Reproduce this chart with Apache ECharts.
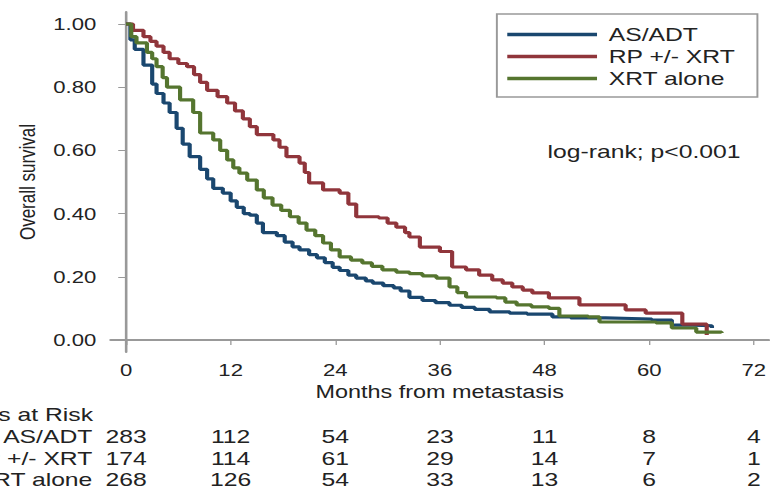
<!DOCTYPE html>
<html>
<head>
<meta charset="utf-8">
<title>Overall survival by treatment</title>
<script src="https://cdn.jsdelivr.net/npm/echarts@6/dist/echarts.min.js"></script>
<style>
  html, body { margin: 0; padding: 0; background: #fff; overflow: hidden; }
  /* the source figure is stretched sideways, so the chart is too */
  #main { width: 592px; height: 491px; transform: scaleX(1.3007); transform-origin: 0 0; }
</style>
</head>
<body>
<div id="main"></div>
<script>
// Kaplan-Meier curves: [month, survival]
var asAdtCurve = [[0,1.00],[0.5,0.95],[1,0.92],[2,0.87],[3,0.81],[3.5,0.78],[4.3,0.75],[5,0.72],[5.8,0.67],
  [6.5,0.62],[7.3,0.58],[8.5,0.54],[9.3,0.51],[10,0.48],[11.1,0.465],[12,0.44],[12.7,0.42],[13.5,0.40],
  [14.2,0.395],[15,0.37],[15.7,0.34],[17.3,0.33],[18.2,0.31],[19.1,0.295],[19.9,0.285],[21,0.27],[21.9,0.26],
  [22.8,0.245],[23.7,0.23],[24.5,0.22],[25.5,0.205],[26.4,0.196],[27.5,0.187],[28.3,0.18],[29.5,0.172],
  [30.7,0.165],[31.5,0.155],[32.5,0.135],[34,0.125],[35.5,0.118],[37.1,0.11],[38.5,0.103],[40,0.097],
  [41.7,0.089],[44,0.085],[46,0.082],[48.9,0.073],[51,0.07],[55,0.068],[58,0.066],[60.3,0.063],
  [62.6,0.047],[65,0.045],[67.2,0.038]];
var rpCurve = [[0,1.00],[0.8,0.98],[2,0.96],[2.8,0.945],[3.5,0.93],[4.3,0.91],[5,0.89],[6,0.875],[7,0.865],
  [7.8,0.84],[8.5,0.815],[9.3,0.79],[10.5,0.77],[11.6,0.75],[12.5,0.725],[13.4,0.70],[14.2,0.675],[15,0.65],
  [16.9,0.633],[17.6,0.61],[18.4,0.58],[19.9,0.56],[20.5,0.53],[21,0.497],[22.6,0.475],[24.5,0.465],
  [25.5,0.43],[26.4,0.39],[29,0.386],[30,0.37],[31,0.357],[32,0.34],[32.5,0.326],[33.7,0.294],[36,0.28],
  [37.4,0.231],[39,0.222],[40.5,0.205],[42,0.19],[43.2,0.18],[44.3,0.168],[45.5,0.158],[46.6,0.149],
  [48.5,0.133],[52,0.111],[57.3,0.095],[59.6,0.085],[63.8,0.05],[66.6,0.016]];
var xrtCurve = [[0,1.00],[0.6,0.96],[1.2,0.94],[2.4,0.91],[3,0.89],[3.5,0.865],[4.2,0.83],[4.7,0.80],
  [6.2,0.76],[7.7,0.72],[8.5,0.655],[10,0.633],[10.8,0.60],[11.6,0.57],[12.3,0.545],[13,0.528],[13.9,0.506],
  [15,0.475],[15.8,0.45],[16.8,0.427],[17.8,0.41],[18.8,0.39],[19.8,0.37],[20.7,0.348],[21.7,0.33],
  [22.6,0.307],[23.5,0.285],[24.5,0.263],[25.8,0.253],[27.1,0.244],[28.2,0.233],[29.4,0.222],[31,0.215],
  [32.5,0.21],[34,0.203],[35.6,0.196],[37.1,0.168],[38,0.15],[39,0.136],[42.5,0.133],[43.5,0.12],
  [44.8,0.111],[46.5,0.105],[48.5,0.10],[49.7,0.076],[53,0.073],[54.3,0.057],[60.8,0.054],[62.6,0.038],
  [65.4,0.025],[68.3,0.022]];

var groupNames = ['AS/ADT', 'RP +/- XRT', 'XRT alone'];
var monthTicks = [0, 12, 24, 36, 48, 60, 72];
var survivalTicks = [0, 0.2, 0.4, 0.6, 0.8, 1];

// numbers at risk under each month tick
var riskAsAdt = [283, 112, 54, 23, 11, 8, 4];
var riskRp = [174, 114, 61, 29, 14, 7, 1];
var riskXrt = [268, 126, 54, 33, 13, 6, 2];

var colors = ['#1a476f', '#90353b', '#55752f'];
var font = '"Liberation Sans", Arial, sans-serif';

var myChart = echarts.init(document.getElementById('main'), null, { renderer: 'svg' });

function kmSeries(name, data, color) {
  return {
    name: name,
    type: 'line',
    step: 'end',
    data: data,
    showSymbol: false,
    symbol: 'none',
    lineStyle: { color: color, width: 3.2 },
    itemStyle: { color: color }
  };
}

myChart.setOption({
  animation: false,
  textStyle: { fontFamily: font, color: '#222' },
  grid: { left: 85, right: 0, top: 12, bottom: 139 },
  legend: {
    data: groupNames.map(function (n) { return { name: n, icon: 'rect' }; }),
    orient: 'vertical',
    left: 382,
    top: 14,
    padding: [11, 17, 9, 8],
    itemWidth: 69,
    itemHeight: 3.5,
    itemGap: 3,
    selectedMode: false,
    borderColor: '#999',
    borderWidth: 1.5,
    textStyle: { fontSize: 19, lineHeight: 19, color: '#222', padding: [0, 0, 0, 4] }
  },
  xAxis: {
    type: 'value',
    min: -1.774,
    max: 73.72,
    name: 'Months from metastasis',
    nameLocation: 'middle',
    nameGap: 24,
    nameTextStyle: { fontSize: 18, color: '#222' },
    splitLine: { show: false },
    axisLine: { lineStyle: { color: '#999', width: 2 } },
    axisTick: { customValues: monthTicks, length: 5, lineStyle: { color: '#999' } },
    axisLabel: { customValues: monthTicks, fontSize: 17, margin: 9, color: '#222' }
  },
  yAxis: {
    type: 'value',
    min: -0.038,
    max: 1.038,
    name: 'Overall survival',
    nameLocation: 'middle',
    nameGap: 56,
    nameTextStyle: { fontSize: 17, color: '#222' },
    splitLine: { show: false },
    axisLine: { show: true, lineStyle: { color: '#999', width: 2 } },
    axisTick: { show: true, customValues: survivalTicks, length: 6, lineStyle: { color: '#999' } },
    axisLabel: {
      customValues: survivalTicks,
      fontSize: 17,
      margin: 11,
      color: '#222',
      formatter: function (v) { return v.toFixed(2); }
    }
  },
  series: [
    kmSeries(groupNames[0], asAdtCurve, colors[0]),
    kmSeries(groupNames[1], rpCurve, colors[1]),
    kmSeries(groupNames[2], xrtCurve, colors[2])
  ]
});

// text under the plot: log-rank note and the numbers at risk table
// (the left side of the table labels is cut off in the source figure as well)
var graphics = [{
  type: 'text',
  x: 421,
  y: 152,
  style: { text: 'log-rank; p<0.001', font: '19px ' + font, fill: '#222', verticalAlign: 'middle' }
}, {
  type: 'text',
  x: 71.5,
  y: 415,
  style: { text: 'Patients at Risk', font: '19px ' + font, fill: '#222', align: 'right', verticalAlign: 'middle' }
}];

var riskRows = [riskAsAdt, riskRp, riskXrt];
var rowY = [437, 459, 480];
riskRows.forEach(function (row, r) {
  graphics.push({
    type: 'text',
    x: 71,
    y: rowY[r],
    style: { text: groupNames[r], font: '19px ' + font, fill: '#222', align: 'right', verticalAlign: 'middle' }
  });
  row.forEach(function (n, i) {
    var px = myChart.convertToPixel({ xAxisIndex: 0 }, monthTicks[i]);
    graphics.push({
      type: 'text',
      x: px,
      y: rowY[r],
      style: { text: String(n), font: '19px ' + font, fill: '#222', align: 'center', verticalAlign: 'middle' }
    });
  });
});

myChart.setOption({ graphic: graphics });
</script>
</body>
</html>
